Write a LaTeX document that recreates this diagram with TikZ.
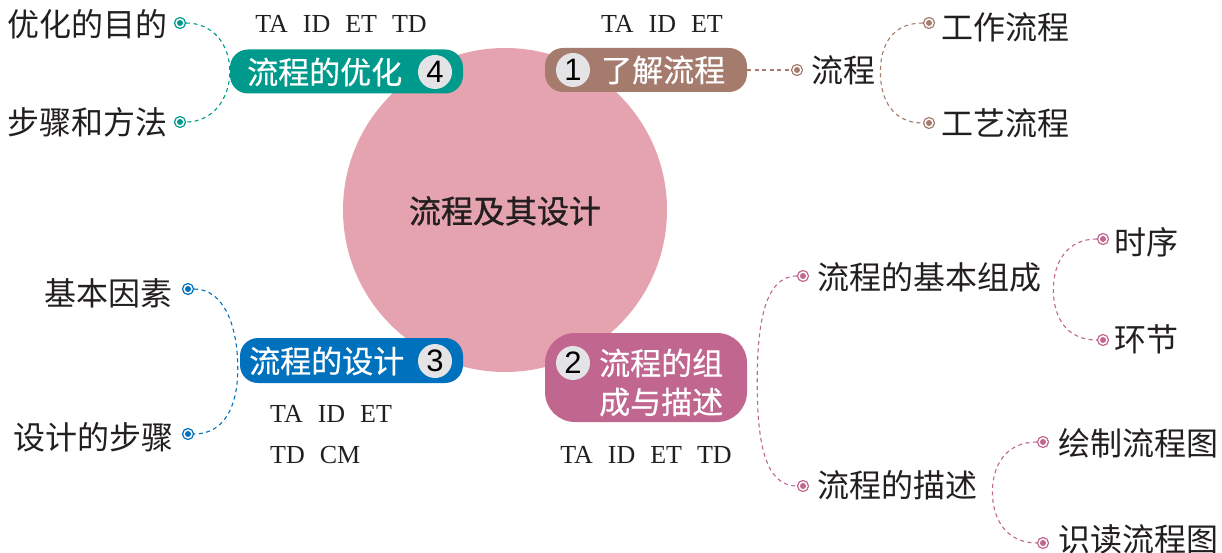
\documentclass[tikz,border=0pt]{standalone}
\usepackage{fontspec}
\setmainfont{Liberation Serif}
\newfontfamily\cjk{Noto Sans CJK SC}
\newfontfamily\cjkb{Noto Sans CJK SC}[FakeBold=0.9]
\newfontfamily\cjkm{Noto Sans CJK SC}[FakeBold=0.5]
\newfontfamily\numfont{Liberation Sans}
\usetikzlibrary{calc}
\definecolor{txt}{HTML}{231F20}
\definecolor{circ}{HTML}{E5A3AF}
\definecolor{tealc}{HTML}{009A8C}
\definecolor{brownc}{HTML}{A57B6D}
\definecolor{bluec}{HTML}{0071BC}
\definecolor{pinkc}{HTML}{C0668F}
\definecolor{numgray}{HTML}{E4E4E6}
\newcommand\gp{\hspace{15pt}}
\begin{document}
\begin{tikzpicture}[x=1pt,y=-1pt,
  badge/.style={inner sep=0pt, rounded corners=18pt},
  lbl/.style={font=\cjk\fontsize{32}{38}\selectfont, text=txt, inner sep=0pt, anchor=west},
  btxt/.style={font=\cjkm\fontsize{31}{36}\selectfont, text=white, inner sep=0pt},
  num/.style={circle, fill=numgray, minimum size=34pt, inner sep=0pt, font=\numfont\fontsize{31}{31}\selectfont, text=black},
  codes/.style={font=\fontsize{26}{30}\selectfont, text=txt, inner sep=0pt},
  dot/.style={circle, draw=#1, fill=white, line width=1.2pt, minimum size=11pt, inner sep=0pt,
    path picture={\fill[#1] (path picture bounding box.center) circle[radius=3pt];}},
  conn/.style={draw=#1, line width=1.1pt, dash pattern=on 4pt off 3.5pt}
]
\useasboundingbox (0,0) rectangle (1222,553);
\fill[white] (0,0) rectangle (1222,553);

% central circle
\node[circle, fill=circ, minimum size=324pt, inner sep=0pt] (center) at (505,210) {};
\node[font=\cjkb\fontsize{32}{38}\selectfont, text=txt, inner sep=0pt] (title) at (505,211) {流程及其设计};

% badge 4
\node[badge, fill=tealc, minimum width=233pt, minimum height=44pt] (b4) at (346.5,71.5) {};
\node[btxt, anchor=west] (t4) at (247,72) {流程的优化};
\node[num] (n4) at (435,72) {4};
\node[codes] (c4) at (341,24) {TA\gp ID\gp ET\gp TD};

% badge 1
\node[badge, fill=brownc, minimum width=202pt, minimum height=44pt] (b1) at (646,70) {};
\node[num] (n1) at (573,70) {1};
\node[btxt, anchor=west] (t1) at (601,70) {了解流程};
\node[codes] (c1) at (662,24) {TA\gp ID\gp ET};

% badge 3
\node[badge, fill=bluec, minimum width=223pt, minimum height=45pt] (b3) at (351.5,360.5) {};
\node[btxt, anchor=west] (t3) at (249,361) {流程的设计};
\node[num] (n3) at (435,361) {3};
\node[codes, anchor=west] (c3a) at (270,414) {TA\gp ID\gp ET};
\node[codes, anchor=west] (c3b) at (270,455) {TD\gp CM};

% badge 2
\node[badge, rounded corners=30pt, fill=pinkc, minimum width=202pt, minimum height=89pt] (b2) at (646,377.5) {};
\node[num] (n2) at (573,363) {2};
\node[btxt, anchor=west] (t2a) at (599,363) {流程的组};
\node[btxt, anchor=west] (t2b) at (599,402) {成与描述};
\node[codes] (c2) at (646,455) {TA\gp ID\gp ET\gp TD};

% left teal branch
\node[lbl] (l4a) at (7,24) {优化的目的};
\node[lbl] (l4b) at (7,122) {步骤和方法};
\node[dot=tealc] (d4a) at (180,23) {};
\node[dot=tealc] (d4b) at (180,122) {};
\draw[conn=tealc] (d4a.east) .. controls +(26,0) and +(0,-28) .. (b4.west)
                  .. controls +(0,28) and +(26,0) .. (d4b.east);

% left blue branch
\node[lbl] (l3a) at (44,293) {基本因素};
\node[lbl] (l3b) at (13,437) {设计的步骤};
\node[dot=bluec] (d3a) at (188,289) {};
\node[dot=bluec] (d3b) at (188,434) {};
\coordinate (k3) at ($(b3.west)+(-2,8)$);
\draw[conn=bluec] (d3a.east) .. controls +(30,0) and +(0,-42) .. (k3)
                  .. controls +(0,38) and +(30,0) .. (d3b.east);

% right brown branch
\node[dot=brownc] (d1) at (797,70) {};
\node[lbl] (l1) at (811,70) {流程};
\draw[conn=brownc] (b1.east) -- (d1.west);
\node[dot=brownc] (d1a) at (929,23) {};
\node[dot=brownc] (d1b) at (929,123) {};
\node[lbl] (l1a) at (941,27) {工作流程};
\node[lbl] (l1b) at (941,123) {工艺流程};
\coordinate (k1) at ($(l1.east)+(5,2)$);
\draw[conn=brownc] (d1a.west) .. controls +(-30,0) and +(0,-28) .. (k1)
                   .. controls +(0,28) and +(-30,0) .. (d1b.west);

% right pink branch
\node[dot=pinkc] (d2a) at (803,276) {};
\node[dot=pinkc] (d2b) at (803,486) {};
\node[lbl] (l2a) at (817,277) {流程的基本组成};
\node[lbl] (l2b) at (817,485) {流程的描述};
\coordinate (k2) at ($(b2.east)+(10,5)$);
\draw[conn=pinkc] (d2a.west) .. controls +(-32,0) and +(0,-60) .. (k2)
                  .. controls +(0,60) and +(-32,0) .. (d2b.west);

\node[dot=pinkc] (d2c) at (1103,239) {};
\node[dot=pinkc] (d2d) at (1103,340) {};
\node[lbl] (l2c) at (1114,242) {时序};
\node[lbl] (l2d) at (1114,339) {环节};
\coordinate (k2b) at ($(l2a.east)+(12,13)$);
\draw[conn=pinkc] (d2c.west) .. controls +(-30,0) and +(0,-28) .. (k2b)
                  .. controls +(0,28) and +(-30,0) .. (d2d.west);

\node[dot=pinkc] (d2e) at (1043,442) {};
\node[dot=pinkc] (d2f) at (1043,543) {};
\node[lbl] (l2e) at (1058,443) {绘制流程图};
\node[lbl] (l2f) at (1058,539) {识读流程图};
\coordinate (k2c) at ($(l2b.east)+(15,7)$);
\draw[conn=pinkc] (d2e.west) .. controls +(-30,0) and +(0,-28) .. (k2c)
                  .. controls +(0,28) and +(-30,0) .. (d2f.west);
\end{tikzpicture}
\end{document}
